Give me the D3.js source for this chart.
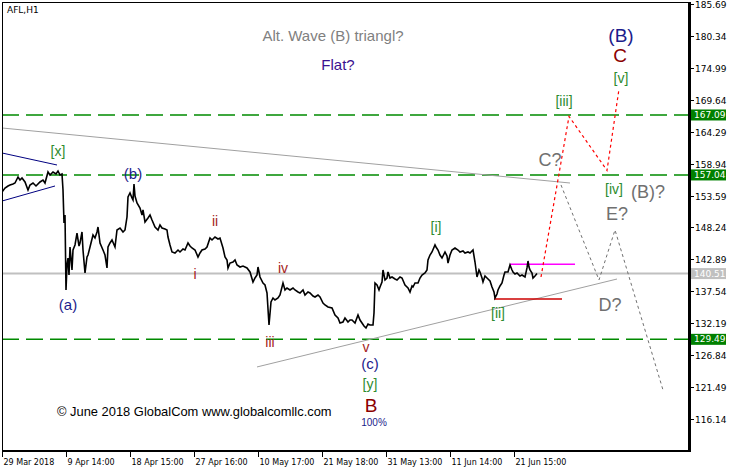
<!DOCTYPE html>
<html><head><meta charset="utf-8">
<script src="https://cdn.jsdelivr.net/npm/d3@7/dist/d3.min.js"></script>
<style>body{margin:0;background:#fff}svg{display:block}</style>
</head><body>
<script>
// ---------- data ----------
const yTicks=[185.69,180.34,174.99,169.64,164.29,158.94,153.59,148.24,142.89,137.54,132.19,126.84,121.49,116.14];
const xTickBars=[0,64,128,192,256,320,384,448,512];
const xTickLabels=["29 Mar 2018","9 Apr 14:00","18 Apr 15:00","27 Apr 16:00","10 May 17:00","21 May 18:00","31 May 13:00","11 Jun 14:00","21 Jun 15:00"];

const priceBars=[
0,3,6,8,11,13,16,18,20,23,
26,28,31,34,38,41,43,46,48,51,
54,56,58,60,61,62,63,64,65,66,
67,68,70,71,73,75,77,78,80,81,
83,85,86,88,91,93,95,96,98,101,
103,105,106,108,110,113,115,118,121,123,
125,126,128,130,131,132,133,135,138,140,
141,143,146,148,150,153,156,158,160,163,
165,166,168,170,173,176,178,181,183,186,
188,190,193,196,198,200,203,205,208,210,
213,216,218,221,223,225,226,228,231,233,
235,238,241,245,248,251,253,255,256,258,
261,263,265,267,269,271,273,276,278,281,
283,285,288,291,293,296,298,301,303,306,
308,311,313,316,318,321,323,326,330,333,
336,338,341,343,346,348,350,353,356,358,
360,362,364,366,368,371,372,373,375,377,
378,380,381,383,385,386,388,390,393,395,
398,400,403,406,408,410,411,413,416,418,
420,423,425,426,428,430,433,434,436,438,
440,443,445,446,448,450,453,456,458,461,
463,466,468,471,473,475,477,478,480,481,
483,485,488,490,492,493,495,496,498,500,
502,503,506,508,510,511,513,515,518,520,
523,525,526,527,528,530,531,533,535];

const priceValues=[
154.18,154.85,155.19,155.36,155.52,155.69,156.70,156.19,156.53,155.86,
154.52,155.36,155.69,155.19,155.86,156.19,155.69,157.54,157.03,157.54,
157.20,157.70,157.03,157.20,154.52,148.99,150.33,137.76,141.95,143.12,
140.27,144.97,141.11,144.46,145.30,147.31,145.13,145.64,147.48,144.46,
140.61,143.29,143.62,144.97,146.98,146.47,147.48,148.32,145.64,144.46,
143.62,141.45,144.97,145.64,146.14,144.97,147.82,148.15,147.48,147.82,
149.99,153.35,154.02,153.18,152.84,155.52,153.51,152.34,151.50,150.33,
151.17,149.16,149.83,150.33,149.49,148.32,147.82,148.65,148.15,147.98,
147.82,146.64,145.30,144.13,143.96,144.46,144.13,144.63,144.46,145.64,
145.13,144.80,144.46,143.29,143.96,144.46,144.63,144.97,146.47,146.14,
146.64,146.31,146.47,144.80,143.29,142.79,141.45,142.28,142.45,142.79,
141.95,141.61,141.78,141.45,140.78,139.10,139.77,140.27,141.61,139.94,
138.93,138.60,137.26,131.89,135.75,136.42,136.08,136.42,136.92,138.93,
137.76,138.10,137.76,138.10,137.76,137.42,137.26,137.76,136.92,137.42,
137.26,136.75,136.59,136.92,136.59,135.58,135.25,134.91,134.74,133.57,
133.07,132.23,132.40,133.07,132.40,132.73,132.73,132.23,133.57,132.73,
132.23,131.73,131.39,132.06,131.89,131.89,133.91,138.93,138.60,137.76,
138.26,139.10,141.11,139.44,139.77,140.78,139.77,139.94,139.60,139.44,
139.94,139.77,138.60,138.10,137.42,138.43,138.26,138.93,138.93,139.77,
140.27,140.61,141.11,142.79,143.62,144.13,145.30,144.97,144.46,143.62,
143.12,144.13,143.46,142.28,143.62,144.46,144.80,144.46,144.13,144.30,
143.96,144.13,143.96,144.46,142.45,139.94,141.11,140.78,139.77,139.10,
140.11,139.77,139.27,138.26,137.42,136.42,137.09,137.76,138.43,138.93,
140.27,140.78,140.78,141.95,141.11,140.78,140.44,140.61,140.11,140.27,
139.94,141.45,142.62,141.61,141.11,140.61,139.77,140.11,140.51];

const levelValues=[167.09,157.04,129.49];
const currentPrice=140.51;

const redPathBars=[539,567,605,617];
const redPathValues=[139.94,166.85,157.80,171.44];
const grayPathBars=[559,597,613,661];
const grayPathValues=[155.36,139.44,147.82,121.00];

const trendUpperBars=[0,568], trendUpperValues=[164.91,155.69];
const trendLowerBars=[255,615], trendLowerValues=[124.86,139.60];
const triUpperBars=[0,55], triUpperValues=[160.72,158.71];
const triLowerBars=[0,53], triLowerValues=[152.67,155.19];
const magentaBars=[508,573], magentaValue=142.07;
const redLevelBars=[492,560], redLevelValue=136.25;

const labelTexts=["[x]","(b)","(a)","ii","i","iv","iii","v","(c)","[y]","B","100%","[i]","[ii]","[iii]","[iv]","(B)?","E?","C?","D?","[v]","C","(B)","Alt. Wave (B) triangl?","Flat?"];
const labelBars=[56,131,66,213,193,281,268,364,368,368,369,372,434,496,562,612,646,615,548,608,619,618,619,331,336];
const labelValues=[161.05,157.20,135.25,149.32,140.44,141.45,129.04,128.21,125.36,122.01,118.32,115.47,148.32,133.91,169.43,154.69,154.18,150.50,159.55,135.25,173.29,177.14,180.49,180.49,175.47];
const labelKinds=["g","n","n","r","r","r","r","r","n","g","R","s","g","g","g","g","q","q","q","q","g","R","N","t","f"];

// ---------- drawing ----------
const W=732,H=468;
const x=d3.scaleLinear().domain([0,686]).range([2,688]);
const y=d3.scaleLinear().domain([116.14,185.69]).range([419,4]);

const svg=d3.select("body").append("svg").attr("width",W).attr("height",H);
svg.append("rect").attr("width",W).attr("height",H).attr("fill","#fff");
svg.append("defs").append("clipPath").attr("id","plot")
  .append("rect").attr("x",2).attr("y",2).attr("width",686).attr("height",449);
const g=svg.append("g").attr("clip-path","url(#plot)");

const seg=(bars,vals)=>bars.map((b,i)=>[x(b),y(vals[i])]);
const line=d3.line();

// current price line
g.append("line").attr("x1",2).attr("x2",688).attr("y1",y(currentPrice)).attr("y2",y(currentPrice))
  .attr("stroke","#c0c0c0").attr("stroke-width",2);
// green dashed levels
levelValues.forEach(v=>{
  g.append("line").attr("x1",2).attr("x2",688).attr("y1",y(v)).attr("y2",y(v))
   .attr("stroke","#008a00").attr("stroke-width",1.5)
   .attr("stroke-dasharray","17,7");
});
// trend lines
g.append("path").attr("d",line(seg(trendUpperBars,trendUpperValues))).attr("stroke","#a0a0a0").attr("fill","none");
g.append("path").attr("d",line(seg(trendLowerBars,trendLowerValues))).attr("stroke","#a0a0a0").attr("fill","none");
g.append("path").attr("d",line(seg(triUpperBars,triUpperValues))).attr("stroke","#000080").attr("fill","none");
g.append("path").attr("d",line(seg(triLowerBars,triLowerValues))).attr("stroke","#000080").attr("fill","none");
// magenta and red levels
g.append("line").attr("x1",x(magentaBars[0])).attr("x2",x(magentaBars[1])).attr("y1",y(magentaValue)).attr("y2",y(magentaValue))
  .attr("stroke","#ff00ff").attr("stroke-width",1.5);
g.append("line").attr("x1",x(redLevelBars[0])).attr("x2",x(redLevelBars[1])).attr("y1",y(redLevelValue)).attr("y2",y(redLevelValue))
  .attr("stroke","#cc0000").attr("stroke-width",1.5);

// price
g.append("path").attr("d",line(seg(priceBars,priceValues))).attr("stroke","#000").attr("stroke-width",1.6)
  .attr("fill","none").attr("stroke-linejoin","miter");

// projections
g.append("path").attr("d",line(seg(grayPathBars,grayPathValues))).attr("stroke","#707070").attr("stroke-width",1)
  .attr("stroke-dasharray","3,3").attr("fill","none");
g.append("path").attr("d",line(seg(redPathBars,redPathValues))).attr("stroke","#ff0000").attr("stroke-width",1.2)
  .attr("stroke-dasharray","3,3").attr("fill","none");

// labels
const kindStyle={
  g:{c:"#2e8b2e",s:14},
  n:{c:"#1c1c8c",s:15},
  N:{c:"#1c1c8c",s:19},
  r:{c:"#a51c1c",s:14},
  R:{c:"#8b0000",s:19},
  s:{c:"#1c1c8c",s:10},
  q:{c:"#707070",s:18},
  t:{c:"#808080",s:15},
  f:{c:"#3a1090",s:15}
};
labelTexts.forEach((t,i)=>{
  const st=kindStyle[labelKinds[i]];
  svg.append("text").attr("x",x(labelBars[i])).attr("y",y(labelValues[i]))
    .attr("text-anchor","middle").attr("dominant-baseline","central")
    .attr("font-family","'Liberation Sans',Arial,sans-serif").attr("font-size",st.s)
    .attr("fill",st.c).text(t);
});
svg.append("text").attr("x",57).attr("y",416).attr("font-family","'Liberation Sans',Arial,sans-serif")
  .attr("font-size",12.9).attr("fill","#000").text("\u00A9 June 2018 GlobalCom www.globalcomllc.com");

// frame
svg.append("line").attr("x1",2).attr("x2",689).attr("y1",2.5).attr("y2",2.5).attr("stroke","#000");
svg.append("line").attr("x1",2.5).attr("x2",2.5).attr("y1",2).attr("y2",452).attr("stroke","#000");
svg.append("line").attr("x1",2).attr("x2",689).attr("y1",451).attr("y2",451).attr("stroke","#000").attr("stroke-width",2);
svg.append("line").attr("x1",689.5).attr("x2",689.5).attr("y1",2).attr("y2",452).attr("stroke","#000").attr("stroke-width",3);

// right axis
const axisFont="'DejaVu Sans',Tahoma,sans-serif";
yTicks.forEach(v=>{
  const yy=Math.round(y(v))+0.5;
  svg.append("line").attr("x1",691).attr("x2",694).attr("y1",yy).attr("y2",yy).attr("stroke","#000");
  svg.append("text").attr("x",695).attr("y",yy).attr("dominant-baseline","central")
    .attr("font-family",axisFont).attr("font-size",9).attr("fill","#000").text(v.toFixed(2));
});
const tag=(v,col)=>{
  const yy=y(v);
  svg.append("rect").attr("x",691).attr("y",yy-5.5).attr("width",35).attr("height",11).attr("fill",col);
  svg.append("text").attr("x",694).attr("y",yy).attr("dominant-baseline","central")
    .attr("font-family",axisFont).attr("font-size",9).attr("fill","#fff").text(v.toFixed(2));
};
levelValues.forEach(v=>tag(v,"#008000"));
tag(currentPrice,"#c0c0c0");

// bottom axis
xTickBars.forEach((b,i)=>{
  const xx=Math.round(x(b))+0.5;
  svg.append("line").attr("x1",xx).attr("x2",xx).attr("y1",452).attr("y2",457).attr("stroke","#000");
  svg.append("text").attr("x",xx+1).attr("y",465).attr("font-family",axisFont).attr("font-size",8)
    .attr("fill","#000").text(xTickLabels[i]);
});

// title
svg.append("text").attr("x",7).attr("y",13).attr("font-family",axisFont).attr("font-size",9)
  .attr("fill","#000").text("AFL,H1");
</script>
</body></html>
